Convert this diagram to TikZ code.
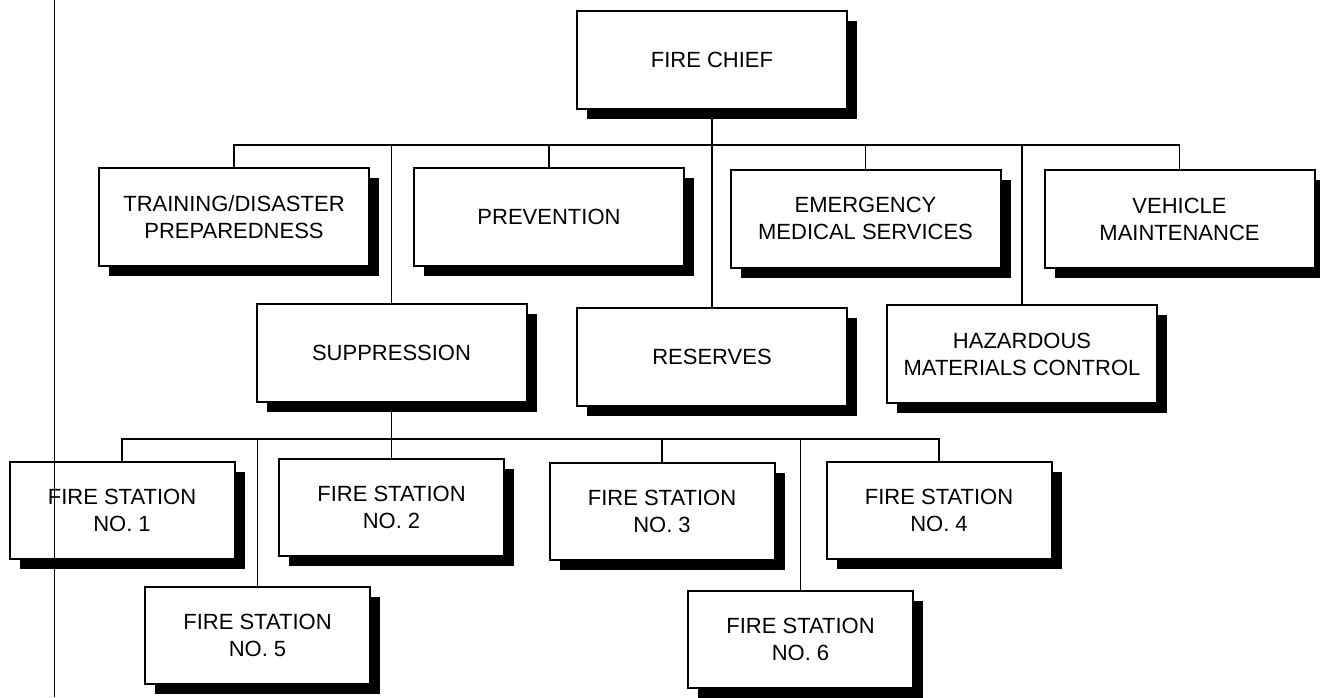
\documentclass[tikz,border=0pt]{standalone}
\usepackage{fontspec}
\setmainfont{Liberation Sans}
\usetikzlibrary{shadows}
\pgfdeclarelayer{background}
\pgfsetlayers{background,main}
\begin{document}
\begin{tikzpicture}[x=0.5pt,y=-0.5pt,
  box/.style={draw=black, line width=1pt, fill=white, align=center,
    font=\fontsize{11pt}{13.5pt}\selectfont, inner sep=0pt,
    drop shadow={shadow xshift=5pt, shadow yshift=-5pt, opacity=1, fill=black}},
  big/.style={box, minimum width=135pt, minimum height=49pt},
  small/.style={box, minimum width=112.5pt, minimum height=48.5pt},
  conn/.style={line width=0.8pt},
  page/.style={line width=0.5pt}]
\useasboundingbox (0,0) rectangle (1320,697);
\coordinate (b1) at (712,145);
\coordinate (b2) at (391.5,439);
\coordinate (ptop) at (54,0);
\coordinate (pbot) at (54,697);
% nodes
\node[big] (chief) at (712,60) {FIRE CHIEF};
\node[big] (train) at (234,217) {TRAINING/DISASTER\\PREPAREDNESS};
\node[big] (prev) at (549,217) {PREVENTION};
\node[big] (ems) at (865.5,218.5) {EMERGENCY\\MEDICAL SERVICES};
\node[big] (veh) at (1179.5,219) {VEHICLE\\MAINTENANCE};
\node[big] (supp) at (391.5,353) {SUPPRESSION};
\node[big] (res) at (712,356.5) {RESERVES};
\node[big] (haz) at (1022,354) {HAZARDOUS\\MATERIALS CONTROL};
\node[small] (fs1) at (122,510) {FIRE STATION\\NO. 1};
\node[small] (fs2) at (391.5,507) {FIRE STATION\\NO. 2};
\node[small] (fs3) at (662,511.5) {FIRE STATION\\NO. 3};
\node[small] (fs4) at (939,510.5) {FIRE STATION\\NO. 4};
\node[small] (fs5) at (257.5,635.5) {FIRE STATION\\NO. 5};
\node[small] (fs6) at (800.5,639.5) {FIRE STATION\\NO. 6};
\begin{pgfonlayer}{background}
% top level
\draw[conn] (chief.south) -- (res.north);
\draw[conn] (train.north) |- (b1) -| (veh.north);
\draw[conn] (prev.north) -- (prev.north |- b1);
\draw[conn] (ems.north) -- (ems.north |- b1);
\draw[conn] (supp.north) -- (supp.north |- b1);
\draw[conn] (haz.north) -- (haz.north |- b1);
% suppression level
\draw[conn] (supp.south) -- (supp.south |- b2);
\draw[conn] (fs1.north) |- (b2) -| (fs4.north);
\draw[conn] (fs2.north) -- (fs2.north |- b2);
\draw[conn] (fs3.north) -- (fs3.north |- b2);
\draw[conn] (fs5.north) -- (fs5.north |- b2);
\draw[conn] (fs6.north) -- (fs6.north |- b2);
\end{pgfonlayer}
% page edge line
\draw[page] (ptop) -- (pbot);
\end{tikzpicture}
\end{document}
